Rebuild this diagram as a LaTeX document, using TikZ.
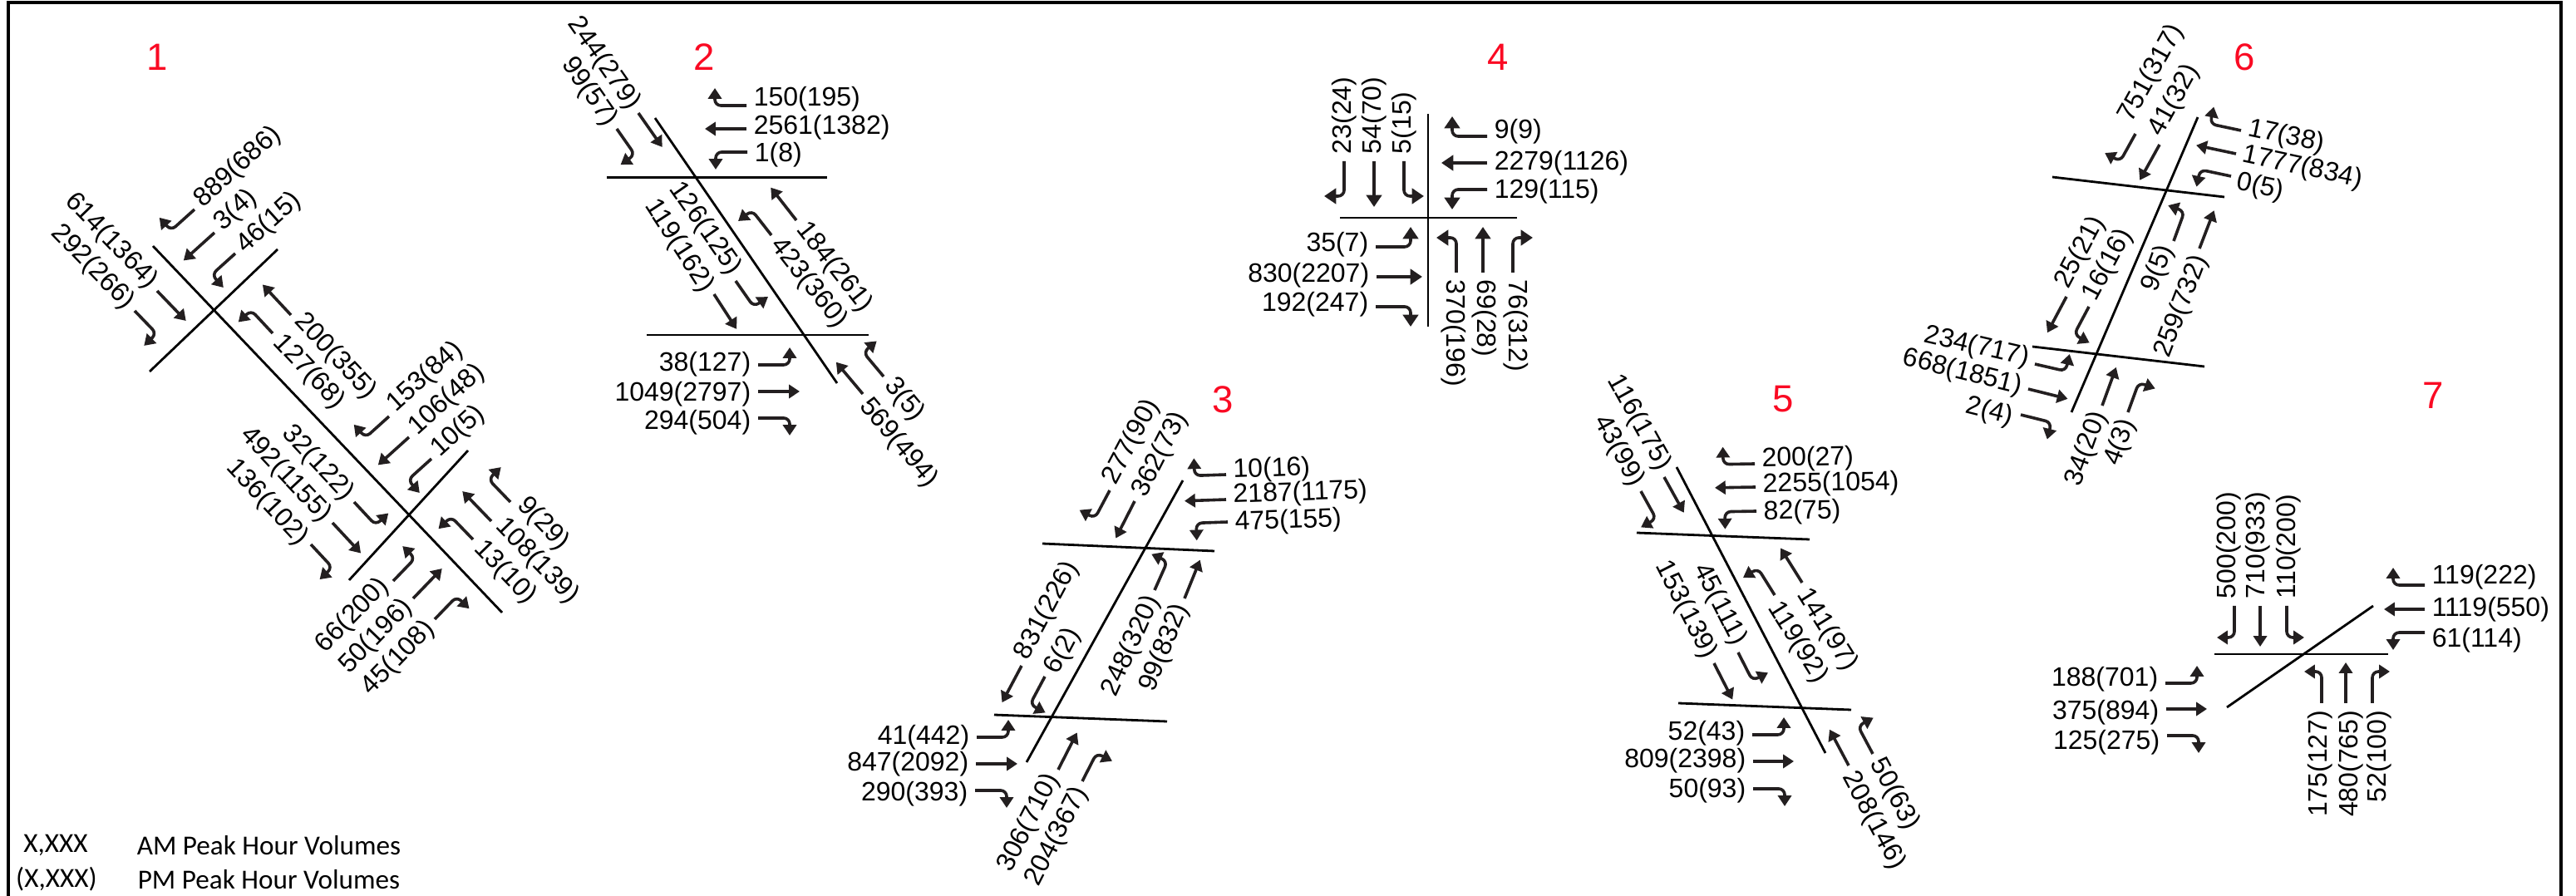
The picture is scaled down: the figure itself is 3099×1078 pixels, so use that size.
\documentclass[tikz,border=0pt]{standalone}
\usepackage{fontspec}
\setmainfont{Liberation Sans}
\newfontfamily\legendfont{Carlito}
\usetikzlibrary{arrows.meta}
\definecolor{tmred}{RGB}{250,10,35}
\definecolor{tmdark}{RGB}{35,31,32}
\def\turnlen{38}
\def\turnlat{21}
\def\thrulen{50}
\def\tiplen{3.2pt}
\def\tipwid{4pt}
% [label shift], name, tail x, tail y, angle, label side, label
\newcommand{\thru}[7][0]{
  \begin{scope}[shift={(#3,#4)},rotate=#5]
    \coordinate (#2a) at (0,0);
    \coordinate (#2b) at (\thrulen,0);
    \node[#6=#5] (#2) at (-8,#1) {#7};
    \draw[mvline] (#2a) -- (#2b);
  \end{scope}}
\newcommand{\turnr}[7][0]{
  \begin{scope}[shift={(#3,#4)},rotate=#5]
    \coordinate (#2a) at (0,0);
    \coordinate (#2c) at (\turnlen,0);
    \coordinate (#2b) at (\turnlen,\turnlat);
    \node[#6=#5] (#2) at (-8,#1) {#7};
    \draw[mvline] (#2a) -- (#2c) -- (#2b);
  \end{scope}}
\newcommand{\turnl}[7][0]{
  \begin{scope}[shift={(#3,#4)},rotate=#5]
    \coordinate (#2a) at (0,0);
    \coordinate (#2c) at (\turnlen,0);
    \coordinate (#2b) at (\turnlen,-\turnlat);
    \node[#6=#5] (#2) at (-8,#1) {#7};
    \draw[mvline] (#2a) -- (#2c) -- (#2b);
  \end{scope}}
\begin{document}
\begin{tikzpicture}[x=.25pt,y=-.25pt,
  mvline/.style={draw=tmdark,line width=.9pt,rounded corners=1.8pt,
    -{Triangle[length=\tiplen,width=\tipwid]}},
  road/.style={draw=black,line width=.7pt},
  inlbl/.style={rotate=#1,anchor=east,inner sep=0pt,text=black,font=\fontsize{8}{9}\selectfont},
  outlbl/.style={rotate=#1-180,anchor=west,inner sep=0pt,text=black,font=\fontsize{8}{9}\selectfont},
  sitenum/.style={text=tmred,inner sep=0pt,font=\fontsize{11.4}{13}\selectfont},
  legendtxt/.style={inner sep=0pt,font=\legendfont\fontsize{8.3}{10}\selectfont}
]
  \useasboundingbox (0,0) rectangle (3099,1078);
  % Frame
  \draw[black,line width=.9pt] (10,1078) -- (10,3) -- (3081,3) -- (3081,1078);

  % Intersection 1
  \node[sitenum] (n1) at (189,69) {1};
  \coordinate (r1a) at (184,296); \coordinate (r1b) at (604,737);
  \coordinate (r1c) at (334,300); \coordinate (r1d) at (180,447);
  \coordinate (r1e) at (563,542); \coordinate (r1f) at (420,698);
  \draw[road] (r1a) -- (r1b);
  \draw[road] (r1c) -- (r1d);
  \draw[road] (r1e) -- (r1f);
  \turnr[3]{a1}{234}{252}{222}{outlbl}{889(686)}
  \thru[3]{a2}{258}{280}{222}{outlbl}{3(4)}
  \turnl{a3}{283}{305}{222}{outlbl}{46(15)}
  \thru[-2]{a4}{189}{350}{-46}{inlbl}{614(1364)}
  \turnr{a5}{162}{374}{-46}{inlbl}{292(266)}
  \thru[5]{a6}{350}{379}{133}{outlbl}{200(355)}
  \turnl{a7}{328}{401}{133}{outlbl}{127(68)}
  \turnr[6]{a8}{468}{501}{222}{outlbl}{153(84)}
  \thru[3]{a9}{492}{526}{222}{outlbl}{106(48)}
  \turnl[3]{a10}{519}{552}{222}{outlbl}{10(5)}
  \turnl{a11}{426}{604}{-47}{inlbl}{32(122)}
  \thru[2]{a12}{400}{629}{-47}{inlbl}{492(1155)}
  \turnr[4]{a13}{374}{655}{-47}{inlbl}{136(102)}
  \turnl[-6]{a14}{473}{699}{46}{inlbl}{66(200)}
  \thru{a15}{497}{720}{46}{inlbl}{50(196)}
  \turnr[1]{a16}{523}{745}{46}{inlbl}{45(108)}
  \turnr[10]{a17}{614}{604}{134}{outlbl}{9(29)}
  \thru[6]{a18}{591}{627}{134}{outlbl}{108(139)}
  \turnl{a19}{569}{649}{134}{outlbl}{13(10)}

  % Intersection 2
  \node[sitenum] (n2) at (847,69) {2};
  \coordinate (r2a) at (788,142); \coordinate (r2b) at (1007,461);
  \coordinate (r2c) at (730,213.5); \coordinate (r2d) at (995,213.5);
  \coordinate (r2e) at (778,403); \coordinate (r2f) at (1045,403);
  \draw[road] (r2a) -- (r2b);
  \draw[road] (r2c) -- (r2d);
  \draw[road] (r2e) -- (r2f);
  \turnr[8]{b1}{898}{127}{180}{outlbl}{150(195)}
  \thru[2]{b2}{898}{155}{180}{outlbl}{2561(1382)}
  \turnl[-3]{b3}{899}{183}{180}{outlbl}{1(8)}
  \thru{b4}{768}{136}{-55}{inlbl}{244(279)}
  \turnr[2]{b5}{742}{155}{-55}{inlbl}{99(57)}
  \turnl[-6]{b6}{885}{338}{-55}{inlbl}{126(125)}
  \thru[4]{b7}{859}{354}{-57}{inlbl}{119(162)}
  \thru[1]{b8}{958}{265}{128}{outlbl}{184(261)}
  \turnl{b9}{928}{283}{128}{outlbl}{423(360)}
  \turnl[-1]{b10}{912}{439}{0}{inlbl}{38(127)}
  \thru[3]{b11}{912}{471}{0}{inlbl}{1049(2797)}
  \turnr[5]{b12}{912}{503}{0}{inlbl}{294(504)}
  \turnr[1]{b13}{1063}{453}{130}{outlbl}{3(5)}
  \thru[-5]{b14}{1038}{474}{130}{outlbl}{569(494)}

  % Intersection 3
  \node[sitenum] (n3) at (1471,481) {3};
  \coordinate (r3a) at (1423,578); \coordinate (r3b) at (1235,917);
  \coordinate (r3c) at (1254,654); \coordinate (r3d) at (1461,663);
  \coordinate (r3e) at (1196,860); \coordinate (r3f) at (1404,868);
  \draw[road] (r3a) -- (r3b);
  \draw[road] (r3c) -- (r3d);
  \draw[road] (r3e) -- (r3f);
  \turnr[4]{c1}{1335}{590}{242}{outlbl}{277(90)}
  \thru[-2]{c2}{1365}{603}{243}{outlbl}{362(73)}
  \turnr[4]{c3}{1475}{571}{182}{outlbl}{10(16)}
  \thru[4]{c4}{1475}{601}{182}{outlbl}{2187(1175)}
  \turnl[-2]{c5}{1477}{628}{182}{outlbl}{475(155)}
  \turnl[2]{c6}{1389}{710}{66}{inlbl}{248(320)}
  \thru{c7}{1425}{720}{68}{inlbl}{99(832)}
  \thru[4]{c8}{1229}{801}{242}{outlbl}{831(226)}
  \turnl[-5]{c9}{1257}{814}{242}{outlbl}{6(2)}
  \turnl{c10}{1175}{887}{0}{inlbl}{41(442)}
  \thru{c11}{1174}{919}{0}{inlbl}{847(2092)}
  \turnr[4]{c12}{1173}{951}{0}{inlbl}{290(393)}
  \thru[-2]{c13}{1273}{926}{63}{inlbl}{306(710)}
  \turnr[3]{c14}{1302}{940}{63}{inlbl}{204(367)}

  % Intersection 4
  \def\turnlen{42} \def\turnlat{24} \def\thrulen{55}
  \def\tiplen{3.6pt} \def\tipwid{4.6pt}
  \node[sitenum] (n4) at (1802,69) {4};
  \coordinate (r4a) at (1718,137); \coordinate (r4b) at (1718,393);
  \coordinate (r4c) at (1612,262); \coordinate (r4d) at (1825,262);
  \draw[road] (r4a) -- (r4b);
  \draw[road] (r4c) -- (r4d);
  \turnr{d1}{1617}{194}{270}{outlbl}{23(24)}
  \thru{d2}{1653}{194}{270}{outlbl}{54(70)}
  \turnl{d3}{1689}{194}{270}{outlbl}{5(15)}
  \turnr[6]{d4}{1789}{164}{180}{outlbl}{9(9)}
  \thru{d5}{1789}{196}{180}{outlbl}{2279(1126)}
  \turnl[-2]{d6}{1789}{228}{180}{outlbl}{129(115)}
  \turnl[-3]{d7}{1655}{297}{0}{inlbl}{35(7)}
  \thru[-2]{d8}{1656}{333}{0}{inlbl}{830(2207)}
  \turnr[-3]{d9}{1655}{369}{0}{inlbl}{192(247)}
  \turnl[-3]{d10}{1752}{328}{90}{outlbl}{370(196)}
  \thru[2]{d11}{1784}{328}{90}{outlbl}{69(28)}
  \turnr[4]{d12}{1820}{328}{90}{outlbl}{76(312)}

  % Intersection 5
  \def\turnlen{38} \def\turnlat{21} \def\thrulen{49}
  \def\tiplen{3.2pt} \def\tipwid{4pt}
  \node[sitenum] (n5) at (2145,480) {5};
  \coordinate (r5a) at (2017,562); \coordinate (r5b) at (2196,906);
  \coordinate (r5c) at (1969,641); \coordinate (r5d) at (2177,649);
  \coordinate (r5e) at (2019,846); \coordinate (r5f) at (2227,854);
  \draw[road] (r5a) -- (r5b);
  \draw[road] (r5c) -- (r5d);
  \draw[road] (r5e) -- (r5f);
  \turnr[5]{e1}{2111}{558}{181}{outlbl}{200(27)}
  \thru[2]{e2}{2112}{586}{181}{outlbl}{2255(1054)}
  \turnl[-2]{e3}{2113}{615}{181}{outlbl}{82(75)}
  \thru[-5]{e4}{2002}{574}{-61}{inlbl}{116(175)}
  \turnr{e5}{1974}{591}{-61}{inlbl}{43(99)}
  \turnl[-6]{e6}{2091}{785}{-63}{inlbl}{45(111)}
  \thru[1]{e7}{2062}{798}{-63}{inlbl}{153(139)}
  \thru[-5]{e8}{2168}{701}{122}{outlbl}{141(97)}
  \turnl[-7]{e9}{2135}{716}{122}{outlbl}{119(92)}
  \turnl[-2]{e10}{2108}{884}{0}{inlbl}{52(43)}
  \thru[-1]{e11}{2109}{916}{0}{inlbl}{809(2398)}
  \turnr[2]{e12}{2109}{949}{0}{inlbl}{50(93)}
  \thru[-5]{e13}{2224}{921}{118}{outlbl}{208(146)}
  \turnr{e14}{2253}{907}{118}{outlbl}{50(63)}

  % Intersection 6
  \node[sitenum] (n6) at (2700,69) {6};
  \coordinate (r6a) at (2644,141); \coordinate (r6b) at (2492,496);
  \coordinate (r6c) at (2469,213); \coordinate (r6d) at (2676,237);
  \coordinate (r6e) at (2445,417); \coordinate (r6f) at (2652,441);
  \draw[road] (r6a) -- (r6b);
  \draw[road] (r6c) -- (r6d);
  \draw[road] (r6e) -- (r6f);
  \turnr[18]{f1}{2569}{161}{241}{outlbl}{751(317)}
  \thru[10]{f2}{2598}{174}{241}{outlbl}{41(32)}
  \turnr[4]{f3}{2696}{157}{168}{outlbl}{17(38)}
  \thru{f4}{2690}{185}{168}{outlbl}{1777(834)}
  \turnl[-6]{f5}{2684}{212}{168}{outlbl}{0(5)}
  \turnl[-6]{f6}{2615}{290}{70}{inlbl}{9(5)}
  \thru[5]{f7}{2646}{299}{69}{inlbl}{259(732)}
  \thru[10]{f8}{2486}{357}{242}{outlbl}{25(21)}
  \turnl[3]{f9}{2513}{369}{242}{outlbl}{16(16)}
  \turnl[-4]{f10}{2448}{438}{-13}{inlbl}{234(717)}
  \thru{f11}{2440}{468}{-14}{inlbl}{668(1851)}
  \turnr[6]{f12}{2431}{499}{-14}{inlbl}{2(4)}
  \thru{f13}{2529}{488}{70}{inlbl}{34(20)}
  \turnr[4]{f14}{2560}{496}{70}{inlbl}{4(3)}

  % Intersection 7
  \node[sitenum] (n7) at (2927,476) {7};
  \coordinate (r7a) at (2664,787); \coordinate (r7b) at (2873,787);
  \coordinate (r7c) at (2855,729); \coordinate (r7d) at (2679,851);
  \draw[road] (r7a) -- (r7b);
  \draw[road] (r7c) -- (r7d);
  \turnr[7]{g1}{2688}{729}{270}{outlbl}{500(200)}
  \thru[3]{g2}{2719}{729}{270}{outlbl}{710(933)}
  \turnl[-2]{g3}{2751}{729}{270}{outlbl}{110(200)}
  \turnr[10]{g4}{2917}{704}{180}{outlbl}{119(222)}
  \thru{g5}{2917}{733}{180}{outlbl}{1119(550)}
  \turnl[-9]{g6}{2917}{761}{180}{outlbl}{61(114)}
  \turnl[-5]{g7}{2605}{822}{0}{inlbl}{188(701)}
  \thru[4]{g8}{2606}{853}{0}{inlbl}{375(894)}
  \turnr[8]{g9}{2607}{885}{0}{inlbl}{125(275)}
  \turnl[-2]{g10}{2793}{846}{90}{inlbl}{175(127)}
  \thru[6]{g11}{2822}{846}{90}{inlbl}{480(765)}
  \turnr[8]{g12}{2854}{846}{90}{inlbl}{52(100)}

  % Legend
  \node[legendtxt,anchor=center] (lg1) at (67,1017) {X,XXX};
  \node[legendtxt,anchor=center] (lg2) at (68,1058) {(X,XXX)};
  \node[legendtxt,anchor=west] (lg3) at (164,1017) {AM Peak Hour Volumes};
  \node[legendtxt,anchor=west] (lg4) at (165,1058) {PM Peak Hour Volumes};
\end{tikzpicture}
\end{document}
